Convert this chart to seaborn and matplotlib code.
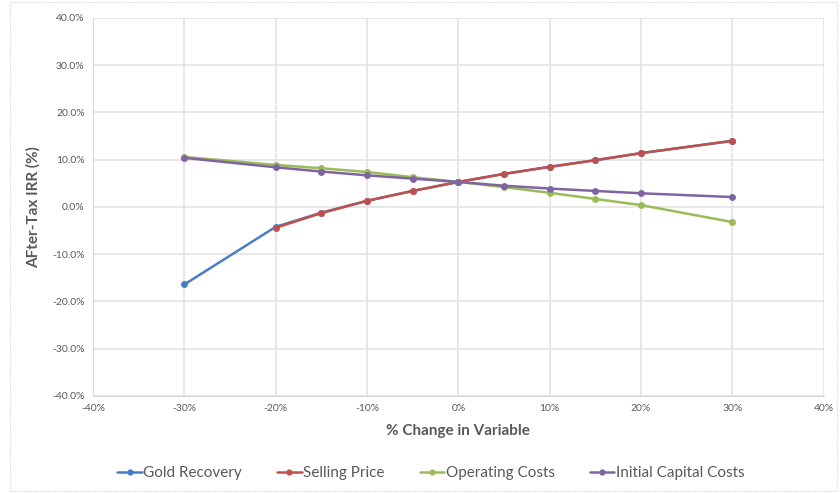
import matplotlib
matplotlib.use("Agg")
import matplotlib.pyplot as plt
from matplotlib.ticker import FuncFormatter, MultipleLocator
from matplotlib.lines import Line2D
import seaborn as sns
import pandas as pd

changes = [-30, -20, -15, -10, -5, 0, 5, 10, 15, 20, 30]
gold_recovery = [-16.4, -4.2, -1.2, 1.3, 3.4, 5.3, 7.0, 8.5, 9.9, 11.4, 14.0]
selling_price = [None, -4.4, -1.3, 1.3, 3.4, 5.3, 7.0, 8.5, 9.9, 11.4, 14.0]
operating_costs = [10.6, 8.9, 8.2, 7.4, 6.3, 5.3, 4.2, 3.0, 1.7, 0.4, -3.2]
initial_capital = [10.4, 8.4, 7.5, 6.7, 6.0, 5.3, 4.5, 3.9, 3.4, 2.9, 2.1]
series_names = ["Gold Recovery", "Selling Price", "Operating Costs", "Initial Capital Costs"]
colors = ["#4A7EC4", "#C0504D", "#9BBB59", "#8064A2"]

rows = []
for name, vals in zip(series_names, [gold_recovery, selling_price, operating_costs, initial_capital]):
    for x, v in zip(changes, vals):
        if v is not None:
            rows.append({"change": x, "irr": v, "series": name})
df = pd.DataFrame(rows)

sns.set_style("white")
plt.rcParams["font.family"] = ["Lato", "DejaVu Sans"]

fig = plt.figure(figsize=(8.4, 4.93), dpi=100)
ax = fig.add_axes([0.1107, 0.1968, 0.870, 0.7667])

sns.lineplot(data=df, x="change", y="irr", hue="series", hue_order=series_names,
             palette=colors, marker="o", markersize=5, markeredgewidth=0,
             linewidth=1.8, ax=ax, legend=False, sort=False)

ax.set_xlim(-40, 40)
ax.set_ylim(-40, 40)
ax.xaxis.set_major_locator(MultipleLocator(10))
ax.yaxis.set_major_locator(MultipleLocator(10))
ax.xaxis.set_major_formatter(FuncFormatter(lambda v, p: f"{v:.0f}%"))
ax.yaxis.set_major_formatter(FuncFormatter(lambda v, p: f"{v:.1f}%"))
ax.tick_params(axis="both", labelsize=7.5, colors="#595959", length=0, pad=6)

ax.grid(axis="both", color="#E3E3E3", linewidth=1.2, linestyle="-")
ax.set_axisbelow(True)
for side in ["top", "right"]:
    ax.spines[side].set_visible(False)
for side in ["left", "bottom"]:
    ax.spines[side].set_color("#D9D9D9")

ax.set_xlabel("% Change in Variable", fontsize=11, fontweight="bold", color="#595959", labelpad=8)
ax.set_ylabel("AFter-Tax IRR (%)", fontsize=11, fontweight="bold", color="#595959", labelpad=8)

handles = [Line2D([], [], color=c, marker="o", markersize=3.5, linewidth=1.8) for c in colors]
fig.legend(handles, series_names, loc="center", bbox_to_anchor=(0.513, 0.040), ncol=4,
           frameon=False, fontsize=11, handlelength=1.6, handletextpad=0.1, columnspacing=2.3,
           labelcolor="#595959")

border = plt.Rectangle((0.012, 0.005), 0.985, 0.99, transform=fig.transFigure, fill=False,
                       edgecolor="#D9D9D9", linewidth=0.8, linestyle=(0, (1, 1)))
fig.add_artist(border)

fig.savefig("out.png", dpi=100)
